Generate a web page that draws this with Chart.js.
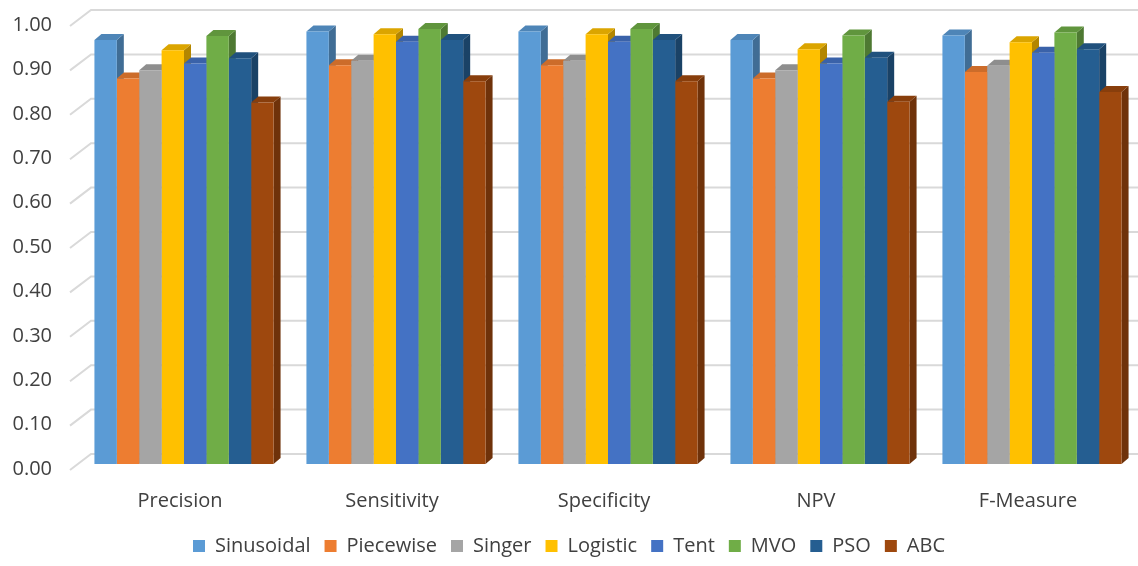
<!DOCTYPE html>
<html><head><meta charset="utf-8">
<script src="https://cdn.jsdelivr.net/npm/chart.js@4.4.1/dist/chart.umd.min.js"></script>
<style>html,body{margin:0;padding:0;background:#fff;}#wrap{width:1138px;height:566px;position:relative;}</style>
</head><body><div id="wrap"><canvas id="c"></canvas></div>
<script>
const categories = ['Precision', 'Sensitivity', 'Specificity', 'NPV', 'F-Measure'];
const seriesNames = ['Sinusoidal', 'Piecewise', 'Singer', 'Logistic', 'Tent', 'MVO', 'PSO', 'ABC'];
const sinusoidal = [0.955, 0.974, 0.974, 0.955, 0.965];
const piecewise  = [0.868, 0.898, 0.898, 0.868, 0.883];
const singer     = [0.887, 0.908, 0.908, 0.887, 0.897];
const logistic   = [0.932, 0.968, 0.968, 0.934, 0.950];
const tent       = [0.902, 0.951, 0.951, 0.902, 0.926];
const mvo        = [0.964, 0.980, 0.980, 0.965, 0.972];
const pso        = [0.914, 0.955, 0.955, 0.915, 0.934];
const abc        = [0.814, 0.862, 0.862, 0.816, 0.838];
const yTicks = [0, 0.1, 0.2, 0.3, 0.4, 0.5, 0.6, 0.7, 0.8, 0.9, 1.0];
const colors = ['#5B9BD5', '#ED7D31', '#A5A5A5', '#FFC000', '#4472C4', '#70AD47', '#255E91', '#9E480E'];
const seriesValues = [sinusoidal, piecewise, singer, logistic, tent, mvo, pso, abc];

function shade(hex, f) {
  const n = parseInt(hex.slice(1), 16);
  const r = Math.round(((n >> 16) & 255) * f), g = Math.round(((n >> 8) & 255) * f), b = Math.round((n & 255) * f);
  return 'rgb(' + r + ',' + g + ',' + b + ')';
}

const BX = 7, BY = 6;      // bar depth offset
const FX = -8, FY = 6;     // front plane offset from bar plane
const WX = 13, WY = -10;   // back wall offset from bar plane

const threeD = {
  id: 'threeD',
  beforeDatasetsDraw(chart) {
    const ctx = chart.ctx, ys = chart.scales.y, area = chart.chartArea;
    ctx.save();
    ctx.strokeStyle = '#d9d9d9';
    ctx.lineWidth = 2;
    yTicks.forEach(v => {
      const y = ys.getPixelForValue(v);
      ctx.beginPath();
      ctx.moveTo(area.left + FX, y + FY);
      ctx.lineTo(area.left + WX, y + WY);
      ctx.lineTo(chart.width, y + WY);
      ctx.stroke();
    });
    const n = chart.data.datasets.length;
    for (let i = 0; i < categories.length; i++) {
      for (let d = 0; d < n; d++) {
        const meta = chart.getDatasetMeta(d);
        if (meta.hidden) continue;
        const p = meta.data[i].getProps(['x', 'y', 'base', 'width'], true);
        const l = p.x - p.width / 2, r = p.x + p.width / 2;
        const col = colors[d];
        ctx.fillStyle = shade(col, 0.7);
        ctx.beginPath();
        ctx.moveTo(r, p.y); ctx.lineTo(r + BX, p.y - BY); ctx.lineTo(r + BX, p.base - BY); ctx.lineTo(r, p.base);
        ctx.closePath(); ctx.fill();
        ctx.fillStyle = shade(col, 0.86);
        ctx.beginPath();
        ctx.moveTo(l, p.y); ctx.lineTo(l + BX, p.y - BY); ctx.lineTo(r + BX, p.y - BY); ctx.lineTo(r, p.y);
        ctx.closePath(); ctx.fill();
      }
    }
    ctx.restore();
  }
};

const fontSpec = { family: '"Open Sans", sans-serif', size: 20 };

new Chart(document.getElementById('c'), {
  type: 'bar',
  data: {
    labels: categories,
    datasets: seriesNames.map((name, k) => ({
      label: name,
      data: seriesValues[k],
      backgroundColor: colors[k],
      borderWidth: 0,
      categoryPercentage: 0.845,
      barPercentage: 1.0
    }))
  },
  options: {
    responsive: true,
    maintainAspectRatio: false,
    animation: false,
    layout: { padding: { top: 20, left: 0, right: 0, bottom: 0 } },
    plugins: {
      legend: {
        position: 'bottom',
        labels: { font: fontSpec, color: '#404040', boxWidth: 12, boxHeight: 12, padding: 14 }
      },
      tooltip: { enabled: false }
    },
    scales: {
      x: {
        grid: { display: false, drawTicks: false },
        border: { display: false },
        ticks: { font: fontSpec, color: '#404040', padding: 25, labelOffset: -4 },
        afterFit(s) { s.height = 58; s.paddingLeft = 0; s.paddingRight = 0; }
      },
      y: {
        min: 0, max: 1,
        grid: { display: false, drawTicks: false },
        border: { display: false },
        afterBuildTicks(s) { s.ticks = yTicks.map(v => ({ value: v })); },
        ticks: { font: fontSpec, color: '#404040', padding: 26, labelOffset: 5, callback: v => Number(v).toFixed(2) },
        afterFit(s) { s.width = 78; s.paddingTop = 0; s.paddingBottom = 0; }
      }
    }
  },
  plugins: [threeD]
});
</script></body></html>
